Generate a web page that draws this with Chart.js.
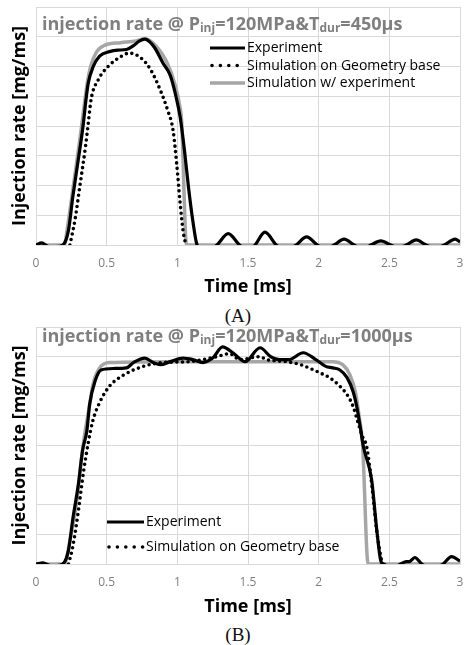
<!DOCTYPE html>
<html>
<head>
<meta charset="utf-8">
<script src="https://cdn.jsdelivr.net/npm/chart.js@4.4.1/dist/chart.umd.min.js"></script>
<style>
  html, body { margin: 0; padding: 0; background: #fff; }
  body { width: 464px; height: 645px; position: relative; overflow: hidden; }
  canvas { position: absolute; left: 0; }
  #chartA { top: 0; }
  #chartB { top: 318px; }
  .panel { position: absolute; width: 40px; text-align: center; font-family: "Liberation Serif", serif; font-size: 19px; line-height: 22px; color: #111; }
</style>
</head>
<body>
<canvas id="chartA" width="464" height="298"></canvas>
<div class="panel" style="left:218px; top:305px;">(A)</div>
<canvas id="chartB" width="464" height="300"></canvas>
<div class="panel" style="left:218px; top:624px;">(B)</div>
<script>
// axis
const xTicks = [0, 0.5, 1, 1.5, 2, 2.5, 3];
const xTickLabels = ['0', '0.5', '1', '1.5', '2', '2.5', '3'];
const seriesNames = ['Experiment', 'Simulation on Geometry base', 'Simulation w/ experiment'];

// (A) Tdur = 450us
const titleA = [['injection rate @ P', false], ['inj', true], ['=120MPa&T', false], ['dur', true], ['=450µs', false]];
const timeA_exp = [0, 0.04, 0.09, 0.14, 0.19, 0.23, 0.26, 0.30, 0.333, 0.354, 0.37, 0.405, 0.45, 0.52, 0.58, 0.64, 0.69, 0.73, 0.77, 0.80, 0.84, 0.90, 0.95, 0.99, 1.02, 1.05, 1.08, 1.11, 1.14, 1.20, 1.28, 1.36, 1.44, 1.50, 1.55, 1.62, 1.70, 1.77, 1.84, 1.915, 1.99, 2.05, 2.11, 2.18, 2.25, 2.31, 2.37, 2.44, 2.51, 2.56, 2.62, 2.69, 2.76, 2.83, 2.89, 2.965, 3.0];
const rateA_exp = [0, 0.07, -0.05, -0.05, 0, 0.5, 1.6, 2.9, 4.0, 4.9, 5.45, 6.0, 6.35, 6.5, 6.55, 6.57, 6.7, 6.85, 6.92, 6.85, 6.63, 6.1, 5.7, 5.0, 4.3, 3.2, 1.9, 0.8, 0, -0.2, 0, 0.38, 0, -0.2, 0, 0.43, 0, -0.2, 0, 0.27, 0, -0.15, 0, 0.2, 0, -0.15, 0, 0.14, 0, -0.1, 0, 0.17, 0, -0.1, 0, 0.2, 0.1];
const timeA_geo = [0.24, 0.276, 0.31, 0.35, 0.37, 0.39, 0.44, 0.51, 0.59, 0.66, 0.74, 0.81, 0.88, 0.93, 0.97, 0.995, 1.02, 1.04, 1.06];
const rateA_geo = [0, 0.85, 1.97, 3.3, 4.1, 4.9, 5.55, 6.0, 6.3, 6.45, 6.3, 5.9, 5.2, 4.55, 3.85, 2.75, 1.4, 0.5, 0];
const timeA_sim = [0, 0.2, 0.22, 0.25, 0.29, 0.32, 0.347, 0.363, 0.387, 0.43, 0.49, 0.6, 0.71, 0.77, 0.85, 0.93, 0.98, 1.02, 1.03, 1.065, 3.0];
const rateA_sim = [0, 0, 0.5, 1.5, 2.85, 3.9, 4.9, 5.45, 6.0, 6.5, 6.72, 6.8, 6.86, 6.93, 6.68, 6.1, 5.45, 4.6, 4.2, 0, 0];

// (B) Tdur = 1000us
const titleB = [['injection rate @ P', false], ['inj', true], ['=120MPa&T', false], ['dur', true], ['=1000µs', false]];
const timeB_exp = [0, 0.05, 0.1, 0.15, 0.19, 0.23, 0.26, 0.30, 0.33, 0.36, 0.38, 0.42, 0.46, 0.55, 0.64, 0.69, 0.77, 0.83, 0.88, 0.95, 1.04, 1.11, 1.18, 1.25, 1.32, 1.40, 1.48, 1.585, 1.66, 1.72, 1.79, 1.89, 1.98, 2.05, 2.10, 2.15, 2.20, 2.245, 2.27, 2.29, 2.315, 2.375, 2.41, 2.44, 2.46, 2.52, 2.58, 2.62, 2.64, 2.68, 2.73, 2.8, 2.88, 2.94, 3.0];
const rateB_exp = [0, 0.04, -0.05, -0.05, 0, 0.47, 1.5, 2.7, 3.85, 4.5, 5.4, 6.2, 6.55, 6.6, 6.62, 6.8, 6.95, 6.8, 6.73, 6.83, 6.95, 6.9, 6.8, 6.95, 7.33, 7.1, 6.83, 7.3, 7.0, 6.9, 6.9, 7.13, 6.9, 6.67, 6.62, 6.55, 6.3, 5.8, 5.3, 4.75, 4.0, 2.84, 1.2, 0.1, 0, -0.15, 0, 0.08, 0.08, 0.22, 0, -0.15, 0, 0.25, 0.1];
const timeB_geo = [0.23, 0.26, 0.30, 0.335, 0.37, 0.40, 0.45, 0.52, 0.62, 0.76, 0.9, 1.09, 1.18, 1.28, 1.37, 1.44, 1.585, 1.63, 1.77, 1.87, 1.94, 2.01, 2.08, 2.15, 2.21, 2.245, 2.28, 2.31, 2.34, 2.38, 2.41, 2.435, 2.45];
const rateB_geo = [0, 0.58, 1.8, 3.07, 4.1, 4.8, 5.45, 6.0, 6.38, 6.67, 6.8, 6.83, 6.9, 7.0, 7.1, 6.9, 7.0, 6.9, 6.83, 6.73, 6.6, 6.45, 6.28, 6.0, 5.65, 5.3, 4.75, 4.3, 3.95, 2.5, 1.15, 0.37, 0];
const timeB_sim = [0, 0.2, 0.24, 0.29, 0.32, 0.345, 0.37, 0.405, 0.45, 0.52, 1.0, 1.6, 2.1, 2.17, 2.22, 2.26, 2.29, 2.31, 2.35, 3.0];
const rateB_sim = [0, 0, 0.8, 2.16, 3.5, 4.4, 5.1, 6.1, 6.62, 6.8, 6.83, 6.83, 6.83, 6.73, 6.4, 5.8, 4.86, 4.1, 0, 0];

const SANS = '"Open Sans", "Noto Sans", sans-serif';
const GRID = '#d9d9d9';

function pts(xs, ys) {
  return xs.map((x, i) => ({ x: x, y: ys[i] }));
}

// title with subscripts, drawn inside the plot
const titlePlugin = {
  id: 'subTitle',
  afterDraw(chart, args, opts) {
    const ctx = chart.ctx;
    ctx.save();
    ctx.fillStyle = '#7f7f7f';
    ctx.textBaseline = 'alphabetic';
    let x = opts.x;
    opts.parts.forEach(([txt, sub]) => {
      ctx.font = 'bold ' + (sub ? opts.subSize : opts.size) + 'px ' + SANS;
      ctx.fillText(txt, x, opts.y + (sub ? 1.5 : 0));
      x += ctx.measureText(txt).width;
    });
    ctx.restore();
  }
};

// legend inside the plot area
const legendPlugin = {
  id: 'innerLegend',
  afterDraw(chart, args, opts) {
    const ctx = chart.ctx;
    ctx.save();
    ctx.font = opts.size + 'px ' + SANS;
    ctx.textBaseline = 'middle';
    opts.items.forEach((idx, i) => {
      const ds = chart.data.datasets[idx];
      const y = opts.y + i * opts.gap;
      ctx.beginPath();
      ctx.strokeStyle = ds.borderColor;
      ctx.lineWidth = ds.borderWidth;
      ctx.lineCap = ds.borderDash ? 'round' : 'butt';
      ctx.setLineDash(ds.borderDash ? [0, 8.4] : []);
      ctx.moveTo(opts.x + (ds.borderDash ? 2 : 0), y);
      ctx.lineTo(opts.x + opts.sample, y);
      ctx.stroke();
      ctx.setLineDash([]);
      ctx.fillStyle = '#000';
      ctx.fillText(ds.label, opts.x + opts.sample + 2, y + 0.5);
    });
    ctx.restore();
  }
};

function makeChart(id, exp, geo, sim, title, legend, axisH, padTop) {
  return new Chart(document.getElementById(id), {
    type: 'line',
    data: {
      datasets: [
        { label: seriesNames[0], data: exp, borderColor: '#000', borderWidth: 3.2,
          cubicInterpolationMode: 'monotone', pointRadius: 0, clip: 0 },
        { label: seriesNames[1], data: geo, borderColor: '#000', borderWidth: 3.6,
          borderDash: [0, 5.6], borderCapStyle: 'round', cubicInterpolationMode: 'monotone', pointRadius: 0 },
        { label: seriesNames[2], data: sim, borderColor: '#a6a6a6', borderWidth: 3.5,
          cubicInterpolationMode: 'monotone', pointRadius: 0 }
      ]
    },
    options: {
      responsive: false,
      animation: false,
      devicePixelRatio: 1,
      layout: { padding: { left: 0, right: 4, top: padTop, bottom: 0 } },
      plugins: {
        legend: { display: false },
        tooltip: { enabled: false },
        subTitle: title,
        innerLegend: legend
      },
      scales: {
        x: {
          type: 'linear', min: 0, max: 3,
          afterBuildTicks: (s) => { s.ticks = xTicks.map(v => ({ value: v })); },
          afterFit: (s) => { s.height = axisH; s.paddingLeft = 0; s.paddingRight = 4; },
          ticks: { callback: (v, i) => xTickLabels[i], color: '#7f7f7f', padding: 11,
                   maxRotation: 0, autoSkip: false, font: { family: SANS, size: 12 } },
          grid: { color: GRID, drawTicks: false },
          border: { color: GRID },
          title: { display: true, text: 'Time [ms]', color: '#000',
                   font: { family: SANS, size: 18, weight: 'bold' }, padding: { top: 0, bottom: 0 } }
        },
        y: {
          min: 0, max: 8,
          afterFit: (s) => { s.width = 36; },
          ticks: { display: false, stepSize: 1 },
          grid: { color: GRID, drawTicks: false },
          border: { color: GRID },
          title: { display: true, text: 'Injection rate [mg/ms]', color: '#000',
                   font: { family: SANS, size: 18, weight: 'bold' }, padding: { top: 9, bottom: 0 } }
        }
      }
    },
    plugins: [titlePlugin, legendPlugin]
  });
}

makeChart('chartA', pts(timeA_exp, rateA_exp), pts(timeA_geo, rateA_geo), pts(timeA_sim, rateA_sim),
  { parts: titleA, x: 42, y: 30, size: 18, subSize: 12 },
  { items: [0, 1, 2], x: 210, y: 48, gap: 17.5, sample: 35, size: 14 },
  53, 7);

makeChart('chartB', pts(timeB_exp, rateB_exp), pts(timeB_geo, rateB_geo), pts(timeB_sim, rateB_sim),
  { parts: titleB, x: 42, y: 24, size: 18, subSize: 12 },
  { items: [0, 1], x: 107, y: 204, gap: 25, sample: 37, size: 14 },
  54, 9);
</script>
</body>
</html>
